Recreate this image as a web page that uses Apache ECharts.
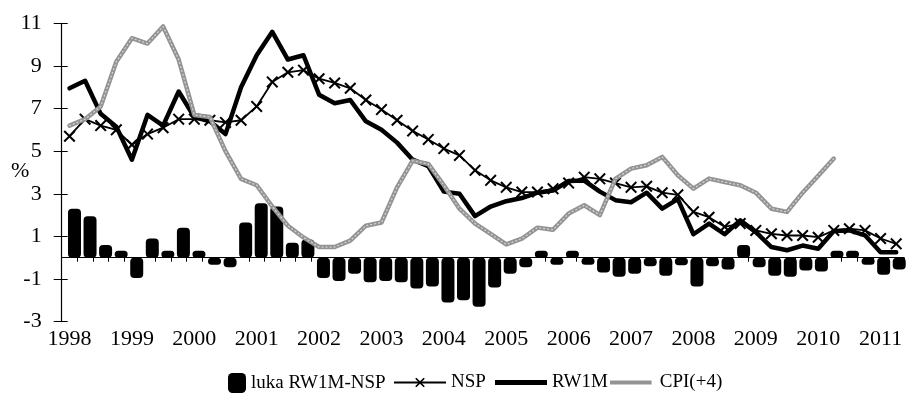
<!DOCTYPE html>
<html><head><meta charset="utf-8">
<script src="https://cdn.jsdelivr.net/npm/echarts@6/dist/echarts.min.js"></script>
<style>html,body{margin:0;padding:0;background:#fff}#c{width:907px;height:405px}</style>
</head><body><div id="c"></div>
<script>
const categories = ['1998Q1','1998Q2','1998Q3','1998Q4','1999Q1','1999Q2','1999Q3','1999Q4',
  '2000Q1','2000Q2','2000Q3','2000Q4','2001Q1','2001Q2','2001Q3','2001Q4',
  '2002Q1','2002Q2','2002Q3','2002Q4','2003Q1','2003Q2','2003Q3','2003Q4',
  '2004Q1','2004Q2','2004Q3','2004Q4','2005Q1','2005Q2','2005Q3','2005Q4',
  '2006Q1','2006Q2','2006Q3','2006Q4','2007Q1','2007Q2','2007Q3','2007Q4',
  '2008Q1','2008Q2','2008Q3','2008Q4','2009Q1','2009Q2','2009Q3','2009Q4',
  '2010Q1','2010Q2','2010Q3','2010Q4','2011Q1','2011Q2'];
const luka = [2.3,1.95,0.6,0.3,-0.95,0.9,0.03,1.4,0.05,-0.15,-0.45,1.65,2.55,2.4,0.7,0.85,
  -0.95,-1.1,-0.75,-1.15,-1.1,-1.15,-1.45,-1.35,-2.1,-2.0,-2.3,-1.4,-0.75,-0.45,0.03,-0.15,
  0.3,-0.12,-0.7,-0.9,-0.75,-0.4,-0.85,-0.35,-1.35,-0.4,-0.55,0.6,-0.45,-0.85,-0.9,-0.6,
  -0.65,0.2,0.05,-0.15,-0.8,-0.55];
const nsp = [5.7,6.5,6.2,6.0,5.3,5.8,6.1,6.5,6.5,6.45,6.35,6.45,7.1,8.25,8.7,8.8,
  8.4,8.2,7.95,7.4,6.95,6.45,5.95,5.55,5.12,4.8,4.1,3.63,3.3,3.08,3.08,3.24,
  3.5,3.78,3.7,3.5,3.3,3.35,3.05,2.95,2.15,1.9,1.45,1.6,1.28,1.12,1.04,1.04,
  0.96,1.28,1.36,1.28,0.9,0.65];
const rw1m = [7.95,8.3,6.75,6.15,4.6,6.7,6.2,7.8,6.6,6.4,5.8,8.0,9.5,10.6,9.3,9.5,
  7.65,7.25,7.4,6.4,6.0,5.4,4.6,4.3,3.1,3.0,1.95,2.4,2.65,2.8,3.05,3.15,
  3.6,3.62,3.1,2.7,2.6,3.05,2.3,2.75,1.1,1.6,1.1,1.75,1.2,0.5,0.35,0.57,
  0.42,1.25,1.28,1.05,0.25,0.25];
const cpi = [6.2,6.5,7.1,9.2,10.3,10.05,10.85,9.3,6.7,6.6,5.0,3.7,3.4,2.4,1.5,0.95,
  0.5,0.5,0.8,1.5,1.65,3.3,4.55,4.4,3.4,2.3,1.6,1.12,0.62,0.89,1.41,1.31,
  2.07,2.46,2.0,3.7,4.18,4.34,4.73,3.87,3.24,3.71,3.55,3.4,3.05,2.3,2.15,3.05,
  3.85,4.65,null,null,null,null];
const yTickValues = [-3,-1,1,3,5,7,9,11];
const seriesNames = ['luka RW1M-NSP','NSP','RW1M','CPI(+4)'];

const FONT = 'Liberation Serif';
const gridBox = {top: 23.3, bottom: 83.4};
const xMark = 'path://M0,1.2L1.2,0L5,3.8L8.8,0L10,1.2L6.2,5L10,8.8L8.8,10L5,6.2L1.2,10L0,8.8L3.8,5Z';
const lineIcon = 'path://M0,0H52V5H0Z';

const chart = echarts.init(document.getElementById('c'), null, {renderer: 'canvas'});
const yBase = {type: 'value', min: -3, max: 11, splitLine: {show: false}};
const legendText = {fontFamily: FONT, fontSize: 19, color: '#000'};
chart.setOption({
  animation: false,
  backgroundColor: '#fff',
  grid: [
    {left: 61.7, right: 3, top: gridBox.top, bottom: gridBox.bottom},
    {left: 66.7, right: -2, top: gridBox.top, bottom: gridBox.bottom},
    {left: 61.7, right: 3, top: gridBox.top, bottom: gridBox.bottom}
  ],
  xAxis: [
    {gridIndex: 0, type: 'category', data: categories, position: 'bottom',
      axisLine: {onZero: true, lineStyle: {color: '#000', width: 1.2}},
      axisTick: {show: true, interval: 0, length: 4, lineStyle: {color: '#000'}},
      axisLabel: {show: false}},
    {gridIndex: 1, type: 'category', data: categories, show: false},
    {gridIndex: 2, type: 'category', data: categories, position: 'bottom',
      axisLine: {show: false, onZero: false}, axisTick: {show: false},
      axisLabel: {interval: 3, margin: 7, fontFamily: FONT, fontSize: 22, color: '#000',
        formatter: v => v.slice(0, 4)}}
  ],
  yAxis: [
    Object.assign({}, yBase, {gridIndex: 0,
      axisLine: {show: true, onZero: false, lineStyle: {color: '#000', width: 1.2}},
      axisTick: {show: true, length: 8, customValues: yTickValues, lineStyle: {color: '#000'}},
      axisLabel: {customValues: yTickValues, margin: 20, fontFamily: FONT, fontSize: 22, color: '#000'}}),
    Object.assign({}, yBase, {gridIndex: 1, show: false}),
    Object.assign({}, yBase, {gridIndex: 2,
      axisLine: {show: false, onZero: false},
      axisTick: {show: true, inside: true, length: 6, customValues: yTickValues, lineStyle: {color: '#000'}},
      axisLabel: {show: false}})
  ],
  legend: [
    {data: [{name: seriesNames[0], icon: 'roundRect'}], left: 228, top: 373, padding: 0,
      itemWidth: 18, itemHeight: 20, textStyle: legendText},
    {data: [seriesNames[1]], left: 393, top: 373, padding: 0,
      itemWidth: 52, itemHeight: 12, textStyle: legendText},
    {data: [{name: seriesNames[2], icon: lineIcon}], left: 495, top: 373, padding: 0,
      itemWidth: 52, itemHeight: 5, textStyle: legendText},
    {data: [{name: seriesNames[3], icon: lineIcon}], left: 610, top: 373, padding: 0,
      itemWidth: 48, itemHeight: 4, textStyle: legendText}
  ],
  graphic: [{type: 'text', left: 11, top: 160, style: {text: '%', font: '22px "Liberation Serif"', fill: '#000'}}],
  series: [
    {name: seriesNames[0], type: 'bar', xAxisIndex: 1, yAxisIndex: 1, data: luka, barWidth: 13,
      barMinHeight: 7, z: 2,
      itemStyle: {color: '#000', borderColor: '#000', borderWidth: 0, borderRadius: 4}},
    {name: seriesNames[1], type: 'line', xAxisIndex: 0, yAxisIndex: 0, data: nsp, z: 3,
      symbol: xMark, symbolSize: 12, showSymbol: true, showAllSymbol: true,
      itemStyle: {color: '#000'}, lineStyle: {color: '#000', width: 1.8}},
    {name: seriesNames[2], type: 'line', xAxisIndex: 0, yAxisIndex: 0, data: rw1m, z: 4,
      symbol: 'none', itemStyle: {color: '#000'},
      lineStyle: {color: '#000', width: 4.5, join: 'round', cap: 'round'}},
    {name: seriesNames[3], type: 'line', xAxisIndex: 0, yAxisIndex: 0, data: cpi, z: 5,
      symbol: 'none', itemStyle: {color: '#939393'},
      lineStyle: {color: '#939393', width: 4.5, join: 'round', cap: 'round'}},
    {name: 'cpiDots', type: 'line', xAxisIndex: 0, yAxisIndex: 0, data: cpi, z: 6,
      symbol: 'none', silent: true,
      lineStyle: {color: '#d4d4d4', width: 1.3, type: [1, 3], cap: 'round'}}
  ]
});
</script></body></html>
